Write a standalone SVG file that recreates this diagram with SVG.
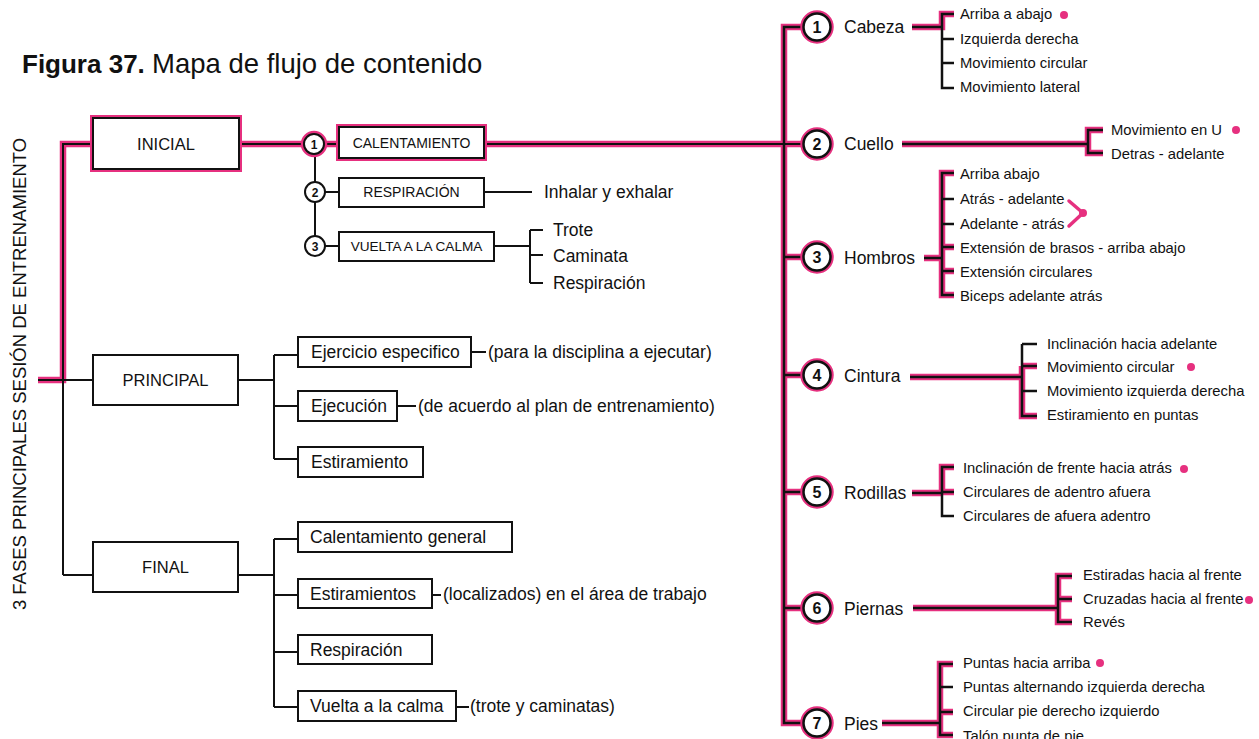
<svg xmlns="http://www.w3.org/2000/svg" width="1259" height="739" viewBox="0 0 1259 739">
<style>
.t{font-family:"Liberation Sans",Arial,sans-serif;fill:#111}
.b{font-weight:bold}
.m{text-anchor:middle}
.bx{fill:#fff;stroke:#111;stroke-width:2}
.bxh{fill:none;stroke:#e6307f;stroke-width:6}
.k{fill:none;stroke:#111;stroke-width:2}
.kr{fill:none;stroke:#111;stroke-width:2.5}
.p{fill:none;stroke:#e6307f;stroke-width:6.5}
.cw{fill:#fff;stroke:#111;stroke-width:2}
.cr{fill:#fff;stroke:#111;stroke-width:2.5}
.ch{fill:none;stroke:#e6307f;stroke-width:6.5}
.dot{fill:#e6307f}
.s17{font-size:17.5px}
.s14{font-size:14.8px}
.s16{font-size:16.5px}
.s13{font-size:14px}
</style>

<text class="t" x="22" y="73" font-size="26"><tspan font-weight="bold">Figura 37.</tspan><tspan x="152" font-size="27.5">Mapa de flujo de contenido</tspan></text>
<text class="t m" transform="translate(26,374) rotate(-90)" font-size="18.5">3 FASES PRINCIPALES SESIÓN DE ENTRENAMIENTO</text>

<g id="connectors">
  <!-- pink highlights -->
  <path class="p" d="M38,380 H63 V144 H93 M239,144 H304 M324,144 H339 M484,144 H803"/>
  <path class="p" d="M803,27 H784 V723 H803 M784,257 H803 M784,375 H803 M784,492 H803 M784,608 H803"/>
  <path class="p" d="M912,27 H942 V14 H954"/>
  <path class="p" d="M902,144 H1088 M1103,130 H1088 V153 H1103"/>
  <path class="p" d="M924,258 H942 M954,173 H942 V295 H954 M942,247 H954 M942,271 H954"/>
  <path class="p" d="M910,377 H1022 M1022,366 H1037 M1022,366 V416 H1037"/>
  <path class="p" d="M912,493 H942 M954,467 H942 V492 H954"/>
  <path class="p" d="M913,608 H1058 M1072,576 H1058 V622 H1072 M1058,599 H1072"/>
  <path class="p" d="M882,723 H940 M953,664 H940 V735 H953 M940,712 H953"/>
  <!-- left black lines -->
  <path class="k" d="M38,380 H63 V144 H93 M239,144 H304 M324,144 H339 M484,144 H803"/>
  <path class="k" d="M63,380 V575 M63,380 H93 M63,575 H93"/>
  <path class="k" d="M315,154 V236 M325,192 H339 M325,246 H339"/>
  <path class="k" d="M484,192 H532 M494,246 H530 M530,230 V283 M530,230 H543 M530,255 H543 M530,283 H543"/>
  <path class="k" d="M238,380 H274 M274,355 V459 M274,355 H298 M274,406 H298 M274,459 H298 M471,352 H486 M397,406 H416"/>
  <path class="k" d="M238,575 H274 M274,539 V707 M274,539 H298 M274,595 H298 M274,652 H298 M274,707 H298 M432,595 H441 M456,707 H469"/>
  <!-- right black lines -->
  <path class="kr" d="M803,27 H784 V723 H803 M784,257 H803 M784,375 H803 M784,492 H803 M784,608 H803"/>
  <path class="kr" d="M912,27 H942 V14 H954 M942,27 V88 H954 M942,39 H954 M942,63 H954"/>
  <path class="kr" d="M902,144 H1088 M1103,130 H1088 V153 H1103"/>
  <path class="kr" d="M924,258 H942 M954,173 H942 V295 H954 M942,247 H954 M942,271 H954 M942,199 H954 M942,224 H954"/>
  <path class="kr" d="M910,377 H1022 M1022,366 H1037 M1022,344 V416 H1037 M1022,344 H1037 M1022,391 H1037"/>
  <path class="kr" d="M912,493 H942 M954,467 H942 V516 H954 M942,492 H954"/>
  <path class="kr" d="M913,608 H1058 M1072,576 H1058 V622 H1072 M1058,599 H1072"/>
  <path class="kr" d="M882,723 H940 M953,664 H940 V735 H953 M940,712 H953 M940,687 H953"/>
</g>

<g id="inicial">
  <rect class="bxh" x="93" y="118" width="146" height="51"/>
  <rect class="bx" x="93" y="118" width="146" height="51"/>
  <text class="t m s16" x="166" y="150">INICIAL</text>
</g>
<g id="principal">
  <rect class="bx" x="93" y="355" width="145" height="50"/>
  <text class="t m s16" x="165.5" y="386">PRINCIPAL</text>
</g>
<g id="final">
  <rect class="bx" x="93" y="542" width="145" height="50"/>
  <text class="t m s16" x="165.5" y="573">FINAL</text>
</g>

<g id="n1-left">
  <circle class="ch" cx="314" cy="144" r="10"/>
  <circle class="cw" cx="314" cy="144" r="10"/>
  <text class="t b m" x="314" y="148.5" font-size="12">1</text>
</g>
<g id="calentamiento">
  <rect class="bxh" x="339" y="127" width="145" height="31"/>
  <rect class="bx" x="339" y="127" width="145" height="31"/>
  <text class="t m s13" x="411.5" y="148">CALENTAMIENTO</text>
</g>
<g id="n2-left">
  <circle class="cw" cx="315" cy="192" r="10"/>
  <text class="t b m" x="315" y="196.5" font-size="12">2</text>
</g>
<g id="respiracion">
  <rect class="bx" x="339" y="178" width="145" height="29"/>
  <text class="t m s13" x="411.5" y="197">RESPIRACIÓN</text>
  <text class="t s17" x="544" y="198">Inhalar y exhalar</text>
</g>
<g id="n3-left">
  <circle class="cw" cx="315" cy="246" r="10"/>
  <text class="t b m" x="315" y="250.5" font-size="12">3</text>
</g>
<g id="vuelta">
  <rect class="bx" x="339" y="232" width="155" height="29"/>
  <text class="t m" x="416.5" y="251" font-size="13.6">VUELTA A LA CALMA</text>
  <text class="t s17" x="553" y="236">Trote</text>
  <text class="t s17" x="553" y="262">Caminata</text>
  <text class="t s17" x="553" y="289">Respiración</text>
</g>

<g id="ejercicio">
  <rect class="bx" x="298" y="337" width="173" height="30"/>
  <text class="t s17" x="311" y="358">Ejercicio especifico</text>
  <text class="t s17" x="488" y="358">(para la disciplina a ejecutar)</text>
</g>
<g id="ejecucion">
  <rect class="bx" x="298" y="391" width="99" height="30"/>
  <text class="t s17" x="311" y="412">Ejecución</text>
  <text class="t s17" x="418" y="412">(de acuerdo al plan de entrenamiento)</text>
</g>
<g id="estiramiento">
  <rect class="bx" x="298" y="447" width="125" height="30"/>
  <text class="t s17" x="311" y="468">Estiramiento</text>
</g>
<g id="calentamiento-general">
  <rect class="bx" x="298" y="522" width="214" height="30"/>
  <text class="t s17" x="310" y="543">Calentamiento general</text>
</g>
<g id="estiramientos">
  <rect class="bx" x="298" y="579" width="134" height="29"/>
  <text class="t s17" x="310" y="600">Estiramientos</text>
  <text class="t s17" x="443" y="600">(localizados) en el área de trabajo</text>
</g>
<g id="respiracion-final">
  <rect class="bx" x="298" y="635" width="134" height="29"/>
  <text class="t s17" x="310" y="656">Respiración</text>
</g>
<g id="vuelta-final">
  <rect class="bx" x="298" y="691" width="158" height="30"/>
  <text class="t s17" x="310" y="712">Vuelta a la calma</text>
  <text class="t s17" x="470" y="712">(trote y caminatas)</text>
</g>

<g id="cabeza">
  <circle class="ch" cx="817" cy="27" r="13.5"/>
  <circle class="cr" cx="817" cy="27" r="13.5"/>
  <text class="t b m" x="817" y="33" font-size="16">1</text>
  <text class="t s17" x="844" y="33">Cabeza</text>
  <text class="t s14" x="960" y="19">Arriba a abajo</text>
  <circle class="dot" cx="1064" cy="15" r="4"/>
  <text class="t s14" x="960" y="44">Izquierda derecha</text>
  <text class="t s14" x="960" y="68">Movimiento circular</text>
  <text class="t s14" x="960" y="92">Movimiento lateral</text>
</g>
<g id="cuello">
  <circle class="ch" cx="817" cy="144" r="13.5"/>
  <circle class="cr" cx="817" cy="144" r="13.5"/>
  <text class="t b m" x="817" y="150" font-size="16">2</text>
  <text class="t s17" x="844" y="150">Cuello</text>
  <text class="t s14" x="1111" y="135">Movimiento en U</text>
  <circle class="dot" cx="1236" cy="130" r="4"/>
  <text class="t s14" x="1111" y="159">Detras - adelante</text>
</g>
<g id="hombros">
  <circle class="ch" cx="817" cy="257" r="13.5"/>
  <circle class="cr" cx="817" cy="257" r="13.5"/>
  <text class="t b m" x="817" y="263" font-size="16">3</text>
  <text class="t s17" x="844" y="264">Hombros</text>
  <text class="t s14" x="960" y="179">Arriba abajo</text>
  <text class="t s14" x="960" y="204">Atrás - adelante</text>
  <text class="t s14" x="960" y="229">Adelante - atrás</text>
  <text class="t s14" x="960" y="253">Extensión de brasos - arriba abajo</text>
  <text class="t s14" x="960" y="277">Extensión circulares</text>
  <text class="t s14" x="960" y="301">Biceps adelante atrás</text>
  <polyline points="1069,201 1083,213 1069,226" fill="none" stroke="#e6307f" stroke-width="3.5" stroke-linecap="round" stroke-linejoin="round"/>
  <circle class="dot" cx="1083" cy="213" r="4"/>
</g>
<g id="cintura">
  <circle class="ch" cx="817" cy="375" r="13.5"/>
  <circle class="cr" cx="817" cy="375" r="13.5"/>
  <text class="t b m" x="817" y="381" font-size="16">4</text>
  <text class="t s17" x="844" y="382">Cintura</text>
  <text class="t s14" x="1047" y="349">Inclinación hacia adelante</text>
  <text class="t s14" x="1047" y="372">Movimiento circular</text>
  <circle class="dot" cx="1191" cy="367" r="4"/>
  <text class="t s14" x="1047" y="396">Movimiento izquierda derecha</text>
  <text class="t s14" x="1047" y="420">Estiramiento en puntas</text>
</g>
<g id="rodillas">
  <circle class="ch" cx="817" cy="492" r="13.5"/>
  <circle class="cr" cx="817" cy="492" r="13.5"/>
  <text class="t b m" x="817" y="498" font-size="16">5</text>
  <text class="t s17" x="844" y="499">Rodillas</text>
  <text class="t s14" x="963" y="473">Inclinación de frente hacia atrás</text>
  <circle class="dot" cx="1184" cy="469" r="4"/>
  <text class="t s14" x="963" y="497">Circulares de adentro afuera</text>
  <text class="t s14" x="963" y="521">Circulares de afuera adentro</text>
</g>
<g id="piernas">
  <circle class="ch" cx="817" cy="608" r="13.5"/>
  <circle class="cr" cx="817" cy="608" r="13.5"/>
  <text class="t b m" x="817" y="614" font-size="16">6</text>
  <text class="t s17" x="844" y="615">Piernas</text>
  <text class="t s14" x="1083" y="580">Estiradas hacia al frente</text>
  <text class="t s14" x="1083" y="604">Cruzadas hacia al frente</text>
  <circle class="dot" cx="1249" cy="600" r="4"/>
  <text class="t s14" x="1083" y="627">Revés</text>
</g>
<g id="pies">
  <circle class="ch" cx="817" cy="723" r="13.5"/>
  <circle class="cr" cx="817" cy="723" r="13.5"/>
  <text class="t b m" x="817" y="729" font-size="16">7</text>
  <text class="t s17" x="844" y="730">Pies</text>
  <text class="t s14" x="963" y="668">Puntas hacia arriba</text>
  <circle class="dot" cx="1100" cy="663" r="4"/>
  <text class="t s14" x="963" y="692">Puntas alternando izquierda derecha</text>
  <text class="t s14" x="963" y="716">Circular pie derecho izquierdo</text>
  <text class="t s14" x="963" y="741">Talón punta de pie</text>
</g>
</svg>
